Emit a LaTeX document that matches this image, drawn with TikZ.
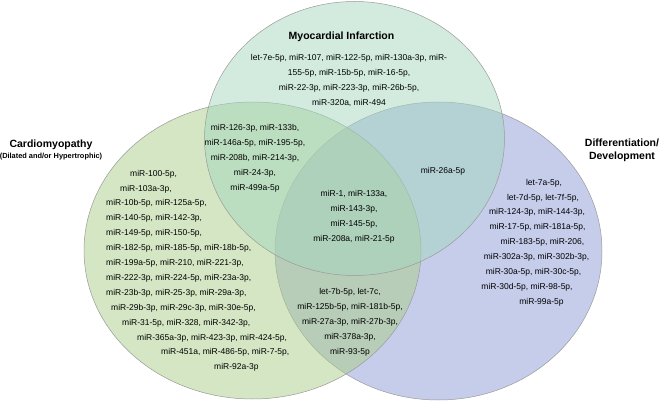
\documentclass[tikz,border=0pt]{standalone}
\usepackage{fontspec}
\setmainfont{Liberation Sans}
\usetikzlibrary{positioning}
\definecolor{mintSet}{HTML}{A5D7BE}
\definecolor{leafSet}{HTML}{AACD87}
\definecolor{lilacSet}{HTML}{8C9BD7}
\definecolor{rimGray}{HTML}{9A9A9A}
\tikzstyle{setshape} = [draw=rimGray, line width=0.5pt, fill opacity=0.5]
\tikzstyle{settitle} = [font=\fontsize{10.5}{13}\selectfont\bfseries, align=center, inner sep=0pt]
\tikzstyle{setsub} = [font=\fontsize{7.4}{9}\selectfont\bfseries, inner sep=0pt]
\tikzstyle{mirlist} = [font=\fontsize{8.5}{15}\selectfont, align=center, inner sep=0pt]
\tikzstyle{mirline} = [font=\fontsize{8.5}{10}\selectfont, inner sep=0pt]

\begin{document}
\begin{tikzpicture}[x=1pt, y=-1pt]
\useasboundingbox (0,0) rectangle (659,401);

% Sets
\draw [setshape, fill=lilacSet] (438.5,251) ellipse [x radius=163.5, y radius=149];
\draw [setshape, fill=leafSet] (252.5,250.5) ellipse [x radius=168.5, y radius=148.5];
\draw [setshape, fill=mintSet] (354.5,138.5) ellipse [x radius=150, y radius=137];

% Titles
\node (miTitle) [settitle] at (341.5,37) {Myocardial Infarction};
\node (cardioTitle) [settitle] at (51,145) {Cardiomyopathy};
\node (cardioSub) [setsub, below=3pt of cardioTitle] {(Dilated and/or Hypertrophic)};
\node (devTitle) [settitle] at (622,150) {Differentiation/\\Development};

% Myocardial infarction only
\node (miOnly) [mirlist] at (349,80.5) {let-7e-5p, miR-107, miR-122-5p, miR-130a-3p, miR-\\
155-5p, miR-15b-5p, miR-16-5p,\\
miR-22-3p, miR-223-3p, miR-26b-5p,\\
miR-320a, miR-494};

% Cardiomyopathy and myocardial infarction
\node (cardioMi) [mirlist] at (255,158) {miR-126-3p, miR-133b,\\
miR-146a-5p, miR-195-5p,\\
miR-208b, miR-214-3p,\\
miR-24-3p,\\
miR-499a-5p};

% All three
\node (allSets) [mirlist] at (354,217) {miR-1, miR-133a,\\
miR-143-3p,\\
miR-145-5p,\\
miR-208a, miR-21-5p};

% Myocardial infarction and development
\node (miDev) [mirline] at (443,171.5) {miR-26a-5p};

% Cardiomyopathy and development
\node (cardioDev) [mirlist] at (350,322.5) {let-7b-5p, let-7c,\\
miR-125b-5p, miR-181b-5p,\\
miR-27a-3p, miR-27b-3p,\\
miR-378a-3p,\\
miR-93-5p};

% Cardiomyopathy only
\foreach \xl/\txt [count=\i] in {130/{miR-100-5p,}, 120/{miR-103a-3p,},
    106/{miR-10b-5p, miR-125a-5p,}, 106/{miR-140-5p, miR-142-3p,},
    106/{miR-149-5p, miR-150-5p,}, 106/{miR-182-5p, miR-185-5p, miR-18b-5p,},
    106/{miR-199a-5p, miR-210, miR-221-3p,}, 106/{miR-222-3p, miR-224-5p, miR-23a-3p,},
    106/{miR-23b-3p, miR-25-3p, miR-29a-3p,}, 111/{miR-29b-3p, miR-29c-3p, miR-30e-5p,},
    122/{miR-31-5p, miR-328, miR-342-3p,}, 137/{miR-365a-3p, miR-423-3p, miR-424-5p,},
    161/{miR-451a, miR-486-5p, miR-7-5p,}, 214/{miR-92a-3p}}
  \node (cardio\i) [mirline, anchor=west] at (\xl,159.1+14.9*\i) {\txt};

% Development only
\foreach \xc/\txt [count=\i] in {544/{let-7a-5p,}, 543/{let-7d-5p, let-7f-5p,},
    537/{miR-124-3p, miR-144-3p,}, 537.5/{miR-17-5p, miR-181a-5p,},
    542.5/{miR-183-5p, miR-206,}, 536.5/{miR-302a-3p, miR-302b-3p,},
    533.5/{miR-30a-5p, miR-30c-5p,}, 527/{miR-30d-5p, miR-98-5p,},
    541.5/{miR-99a-5p}}
  \node (dev\i) [mirline] at (\xc,168.1+14.9*\i) {\txt};

\end{tikzpicture}
\end{document}
